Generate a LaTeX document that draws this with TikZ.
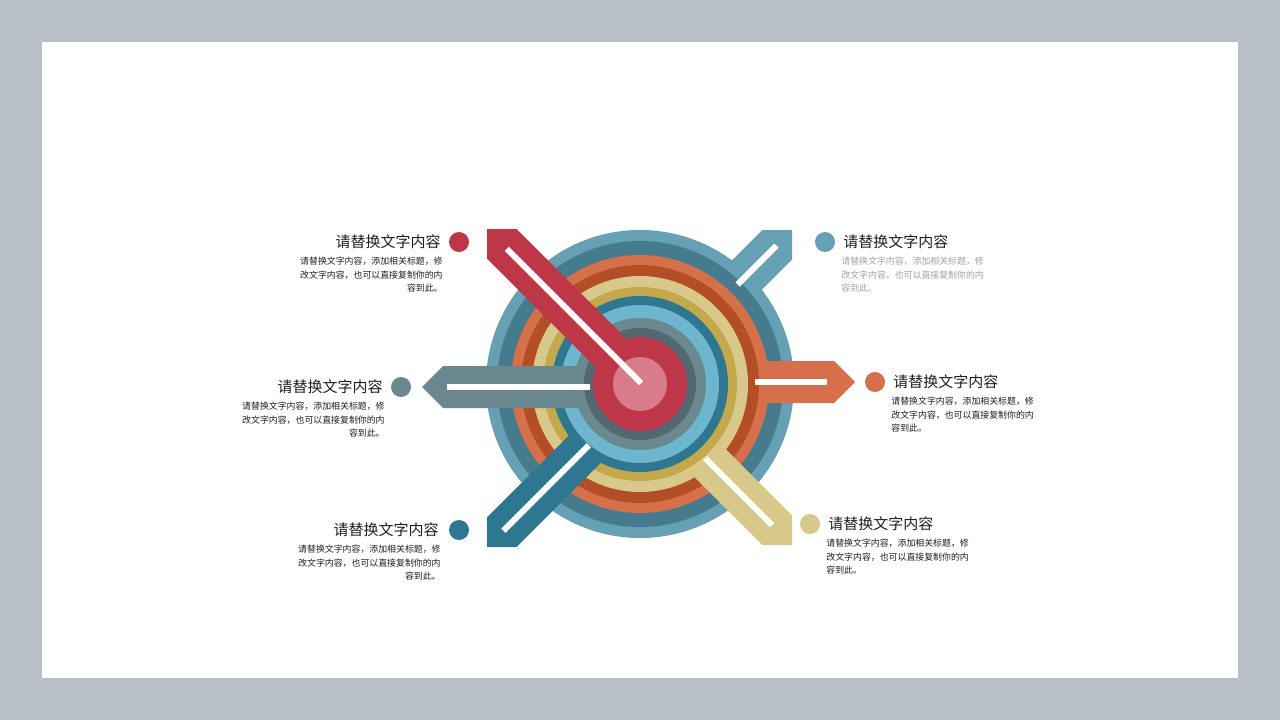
\documentclass[tikz,border=0pt]{standalone}
\usepackage{fontspec}
\usepackage{xcolor}
\usepackage{tikz}
\usetikzlibrary{positioning}

\newfontfamily\cjk{Noto Sans CJK SC}

\definecolor{FrameC}{HTML}{B8BFC7}
\definecolor{TealC}{HTML}{65A0B5}
\definecolor{DeepTealC}{HTML}{467A8D}
\definecolor{OrangeC}{HTML}{D6704A}
\definecolor{BrownC}{HTML}{B34E27}
\definecolor{KhakiC}{HTML}{D8C98A}
\definecolor{GoldC}{HTML}{C3A94B}
\definecolor{PetrolC}{HTML}{2F7791}
\definecolor{SkyC}{HTML}{6DB6CD}
\definecolor{GreyC}{HTML}{6B878F}
\definecolor{SlateC}{HTML}{536870}
\definecolor{RedC}{HTML}{BE3749}
\definecolor{PinkC}{HTML}{DA7B8B}
\definecolor{TextC}{HTML}{1E1E1E}
\definecolor{FadedC}{HTML}{A3A3A3}

% band: tip x, tip y, angle, length, colour
\newcommand{\drawband}[5]{%
  \fill[#5, shift={(#1,#2)}, rotate=-#3] (0,0) -- (-21,21) -- (-#4,21) -- (-#4,-21) -- (-21,-21) -- cycle;}

\begin{document}
\begin{tikzpicture}[
    x=1pt, y=-1pt,
    title/.style={font=\cjk\fontsize{15}{18}\selectfont, text=TextC, inner sep=0pt},
    body/.style={font=\cjk\fontsize{8.9}{13.5}\selectfont, text=TextC, inner sep=0pt},
    dot/.style={circle, minimum size=20pt, inner sep=0pt},
    stripe/.style={draw=white, line width=6pt}
]

    % Slide
    \useasboundingbox (0,0) rectangle (1280,720);
    \fill[FrameC] (0,0) rectangle (1280,720);
    \fill[white] (42,42) rectangle (1238,678);

    % Rings and bands
    \fill[TealC]     (640,384) circle (154);
    \drawband{792}{230}{315}{80}{TealC}
    \fill[DeepTealC] (640,384) circle (143);
    \fill[OrangeC]   (640,384) circle (129);
    \drawband{855}{382}{0}{105}{OrangeC}
    \fill[BrownC]    (640,384) circle (119);
    \fill[KhakiC]    (640,384) circle (108);
    \drawband{792}{545}{45}{128}{KhakiC}
    \fill[GoldC]     (640,384) circle (97);
    \fill[PetrolC]   (640,384) circle (88);
    \drawband{487}{547}{135}{150}{PetrolC}
    \fill[SkyC]      (640,384) circle (79);
    \fill[GreyC]     (640,384) circle (66);
    \drawband{422}{387}{180}{173}{GreyC}
    \fill[SlateC]    (640,384) circle (56);
    \fill[RedC]      (640,384) circle (47);
    \drawband{487}{229}{225}{218}{RedC}
    \fill[PinkC]     (640,384) circle (27);

    % White stripes
    \foreach \x/\y/\a/\from/\to in {487/229/225/28/218, 792/230/315/22/77, 855/382/0/28/100,
                                     422/387/180/25/168, 487/547/135/23/144, 792/545/45/28/123}
        \draw[stripe, shift={(\x,\y)}, rotate=-\a] (-\from,0) -- (-\to,0);

    % Dots
    \node[dot, fill=RedC]    (RedDot)    at (459,242) {};
    \node[dot, fill=TealC]   (TealDot)   at (825,242) {};
    \node[dot, fill=GreyC]   (GreyDot)   at (401,387) {};
    \node[dot, fill=OrangeC] (OrangeDot) at (875,382) {};
    \node[dot, fill=PetrolC] (PetrolDot) at (459,530) {};
    \node[dot, fill=KhakiC]  (KhakiDot)  at (810,524) {};

    % Titles
    \node[title, left=8pt of RedDot]     (RedTitle)    {请替换文字内容};
    \node[title, right=8pt of TealDot]   (TealTitle)   {请替换文字内容};
    \node[title, left=8pt of GreyDot]    (GreyTitle)   {请替换文字内容};
    \node[title, right=8pt of OrangeDot] (OrangeTitle) {请替换文字内容};
    \node[title, left=10pt of PetrolDot] (PetrolTitle) {请替换文字内容};
    \node[title, right=8pt of KhakiDot]  (KhakiTitle)  {请替换文字内容};

    % Texts
    \node[body, align=right, below=8pt of RedTitle.south east, anchor=north east, xshift=2pt] (RedText)
        {请替换文字内容，添加相关标题，修\\改文字内容，也可以直接复制你的内\\容到此。};
    \node[body, align=left, text=FadedC, below=8pt of TealTitle.south west, anchor=north west, xshift=-2pt] (TealText)
        {请替换文字内容，添加相关标题，修\\改文字内容，也可以直接复制你的内\\容到此。};
    \node[body, align=right, below=8pt of GreyTitle.south east, anchor=north east, xshift=2pt] (GreyText)
        {请替换文字内容，添加相关标题，修\\改文字内容，也可以直接复制你的内\\容到此。};
    \node[body, align=left, below=8pt of OrangeTitle.south west, anchor=north west, xshift=-2pt] (OrangeText)
        {请替换文字内容，添加相关标题，修\\改文字内容，也可以直接复制你的内\\容到此。};
    \node[body, align=right, below=8pt of PetrolTitle.south east, anchor=north east, xshift=2pt] (PetrolText)
        {请替换文字内容，添加相关标题，修\\改文字内容，也可以直接复制你的内\\容到此。};
    \node[body, align=left, below=8pt of KhakiTitle.south west, anchor=north west, xshift=-2pt] (KhakiText)
        {请替换文字内容，添加相关标题，修\\改文字内容，也可以直接复制你的内\\容到此。};

\end{tikzpicture}
\end{document}
